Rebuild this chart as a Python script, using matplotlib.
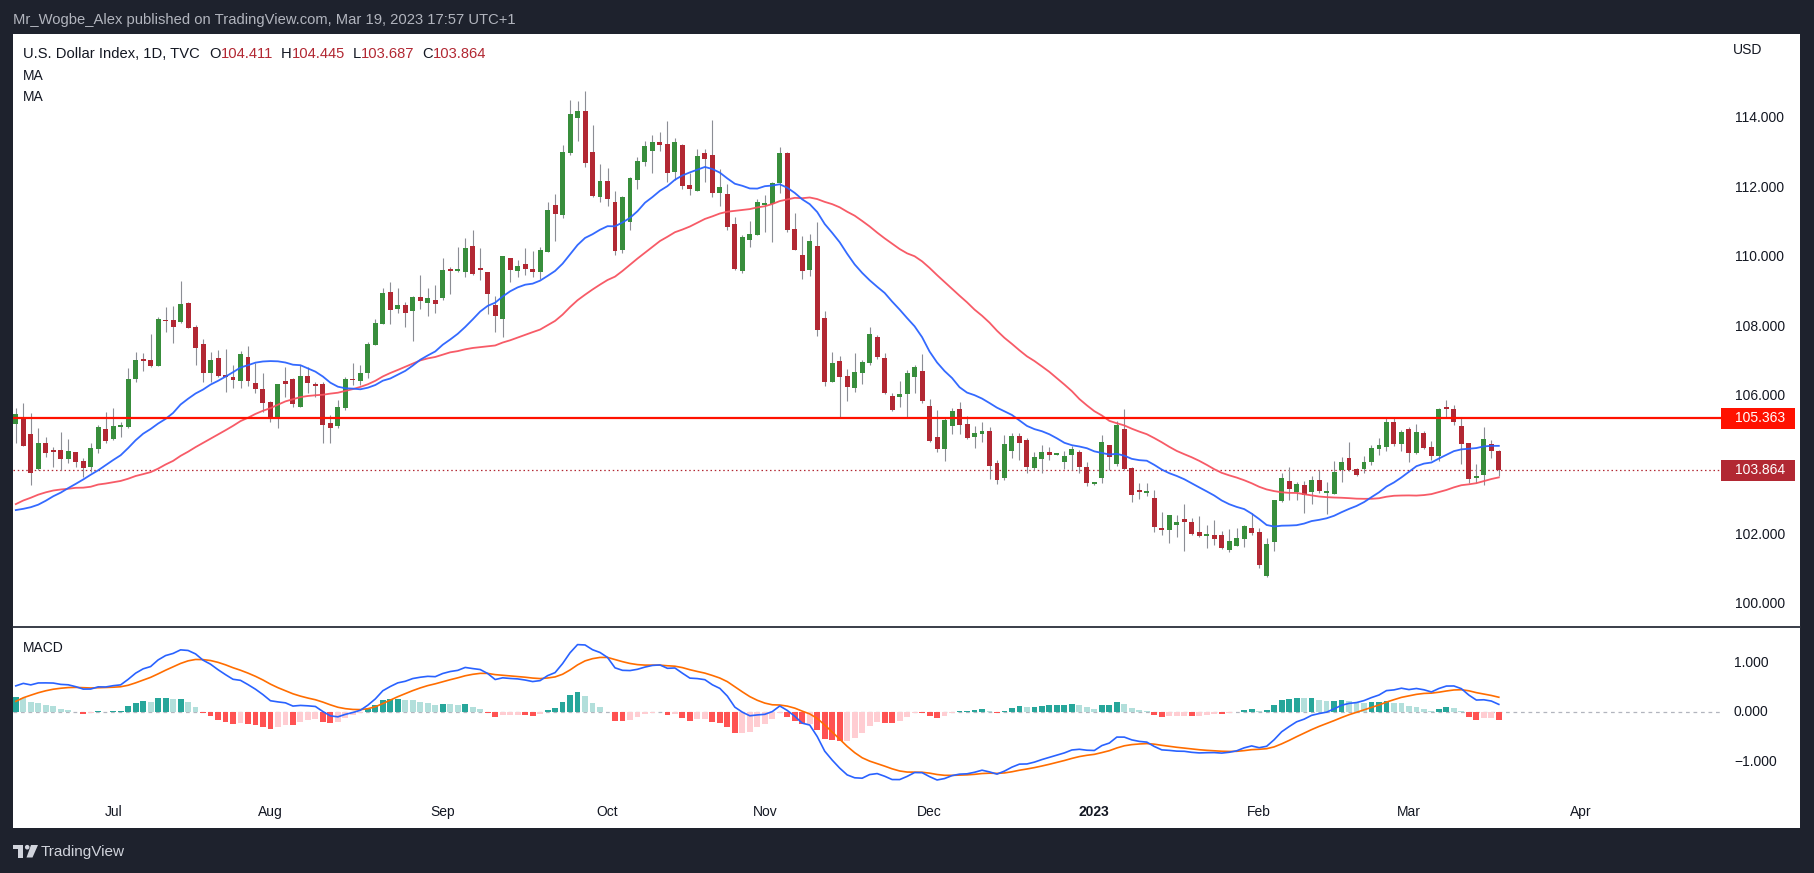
import numpy as np
import pandas as pd
import matplotlib
matplotlib.use("Agg")
import matplotlib.pyplot as plt
from matplotlib.patches import Rectangle, Circle, Polygon

plt.rcParams['font.family'] = ['Liberation Sans', 'DejaVu Sans']

# ---------------- data ----------------
# daily closes before the visible window (used only to warm up the indicators)
history_close = [
    96.2, 96.3, 96.2, 96.3, 95.7, 95.9, 95.6, 94.9, 95.2, 95.2, 95.3, 95.8, 95.5, 95.7, 95.6,
    95.9, 96.0, 96.5, 97.2, 97.3, 96.6,
    96.3, 95.9, 95.4, 95.5, 95.5, 95.6, 95.5, 95.6, 96.0, 96.3, 96.0, 95.8, 95.8, 96.0, 96.0,
    96.0, 96.2, 97.1, 96.6, 96.7,
    97.4, 97.4, 97.8, 98.6, 99.0, 98.9, 98.0, 98.5, 99.1, 99.0, 98.8, 98.4, 97.9, 98.2, 98.5,
    98.5, 98.6, 98.8, 98.8, 99.0, 98.4, 97.8, 98.3,
    98.6, 99.0, 99.5, 99.6, 99.8, 99.8, 99.9, 100.3, 99.8, 100.5, 100.5, 100.9, 101.0, 100.4,
    100.6, 101.1, 101.7, 102.3, 103.0, 103.6, 103.0,
    103.76, 103.45, 102.56, 103.56, 103.66, 103.67, 103.92, 103.91, 104.85, 104.56, 104.20,
    103.38, 103.85, 102.85, 103.19, 102.11, 101.82, 102.08, 101.82, 101.67, 101.41, 101.76,
    102.54, 101.80, 102.16, 102.40, 102.33, 102.55, 103.26, 104.15, 105.08,
]

first_day = '2022-06-14'
last_day = '2023-03-17'

open_ = np.array([
    105.19, 105.38, 104.91, 103.89, 104.65, 104.46, 104.45, 104.20, 104.38, 104.13,
    103.97, 104.47, 105.05, 104.77, 105.11, 105.12, 106.48, 107.07, 107.04, 106.88,
    108.19, 108.20, 108.14, 108.68, 107.99, 107.50, 106.67, 107.09, 106.62, 106.55,
    106.44, 107.13, 106.37, 106.21, 105.83, 105.36, 106.44, 106.49, 105.70, 106.58,
    106.35, 106.35, 105.23, 105.15, 105.67, 106.49, 106.44, 106.67, 107.47, 108.09,
    109.00, 108.51, 108.63, 108.46, 108.85, 108.69, 108.77, 108.83, 109.66, 109.61,
    109.59, 110.33, 109.68, 109.57, 108.63, 108.23, 109.97, 109.61, 109.81, 109.66,
    109.59, 110.16, 111.50, 111.22, 113.01, 114.02, 114.22, 113.04, 111.75, 112.20,
    111.59, 110.21, 111.03, 112.24, 112.76, 113.07, 113.32, 113.27, 112.47, 113.24,
    112.08, 111.92, 113.00, 112.95, 111.86, 111.82, 110.96, 109.61, 110.51, 110.65,
    111.51, 111.55, 112.15, 113.01, 110.82, 110.07, 109.64, 110.33, 108.25, 106.42,
    107.01, 106.58, 106.24, 106.67, 106.96, 107.70, 107.10, 106.00, 105.97, 106.05,
    106.56, 106.72, 105.72, 104.82, 104.48, 105.15, 105.63, 105.20, 104.83, 104.92,
    104.99, 104.07, 103.65, 104.43, 104.85, 104.74, 103.94, 104.20, 104.39, 104.31,
    104.11, 104.31, 104.39, 103.97, 103.48, 103.65, 104.59, 104.05, 105.05, 103.93,
    103.29, 103.22, 103.06, 102.20, 102.14, 102.29, 102.46, 102.37, 102.08, 101.98,
    102.00, 102.00, 101.57, 101.69, 101.89, 102.20, 102.08, 100.82, 101.80, 102.99,
    103.55, 103.24, 103.44, 103.24, 103.58, 103.22, 103.18, 103.87, 104.22, 103.90,
    103.90, 104.10, 104.48, 104.54, 105.25, 104.62, 105.05, 104.36, 104.94, 104.53,
    104.27, 105.69, 105.63, 105.14, 104.65, 103.65, 103.73, 104.62, 104.411,
])
high_ = np.array([
    105.65, 105.81, 105.52, 105.07, 104.81, 104.54, 104.97, 104.76, 104.40, 104.21,
    104.64, 105.17, 105.54, 105.65, 105.26, 106.80, 107.28, 107.25, 107.79, 108.27,
    108.58, 108.60, 109.32, 108.72, 108.05, 107.64, 107.28, 107.33, 107.37, 106.90,
    107.30, 107.44, 106.95, 106.66, 105.85, 106.36, 106.85, 106.51, 106.90, 106.83,
    106.42, 106.40, 105.46, 105.89, 106.56, 106.95, 106.90, 107.57, 108.22, 109.12,
    109.30, 109.11, 108.72, 108.89, 109.49, 109.11, 109.20, 109.97, 109.71, 110.31,
    110.56, 110.78, 110.28, 109.59, 108.89, 110.05, 109.99, 109.91, 110.26, 110.18,
    110.31, 111.59, 111.82, 113.24, 114.53, 114.50, 114.79, 113.81, 112.69, 112.57,
    111.92, 111.76, 112.31, 112.88, 113.35, 113.52, 113.61, 113.93, 113.43, 113.26,
    112.42, 113.12, 113.12, 113.96, 112.55, 112.12, 111.17, 110.64, 111.05, 111.68,
    111.80, 112.17, 113.19, 113.03, 111.28, 110.61, 110.67, 111.02, 108.45, 107.27,
    107.15, 106.79, 107.24, 107.04, 107.99, 107.75, 107.23, 106.08, 106.44, 106.75,
    106.90, 107.21, 105.92, 105.60, 105.39, 105.65, 105.84, 105.43, 105.14, 105.26,
    105.12, 104.16, 104.88, 104.93, 104.93, 104.80, 104.38, 104.59, 104.53, 104.35,
    104.42, 104.57, 104.45, 104.11, 103.52, 104.88, 104.60, 105.29, 105.63, 103.95,
    103.50, 103.50, 103.29, 102.66, 102.58, 102.57, 102.89, 102.49, 102.55, 102.29,
    102.43, 102.11, 102.17, 102.20, 102.29, 102.62, 102.20, 101.92, 103.02, 103.78,
    103.96, 103.53, 103.55, 103.70, 103.87, 103.52, 104.13, 104.25, 104.68, 103.92,
    104.27, 104.59, 104.79, 105.36, 105.38, 105.02, 105.11, 105.20, 104.99, 104.71,
    105.66, 105.89, 105.74, 105.37, 104.65, 104.04, 105.11, 104.74, 104.445,
])
low_ = np.array([
    104.64, 104.55, 103.44, 103.87, 104.25, 103.97, 103.87, 104.08, 103.97, 103.66,
    103.82, 104.37, 104.66, 104.74, 104.83, 105.07, 106.42, 106.73, 106.83, 106.86,
    107.86, 107.52, 108.12, 107.95, 106.90, 106.42, 106.42, 106.56, 106.13, 106.23,
    106.23, 106.29, 106.08, 105.55, 105.26, 105.07, 105.98, 105.70, 105.68, 106.10,
    105.98, 104.66, 104.66, 105.09, 105.60, 106.32, 106.32, 106.53, 107.46, 108.07,
    108.08, 108.39, 108.00, 107.60, 108.50, 108.31, 108.40, 108.78, 108.94, 109.59,
    109.42, 109.50, 109.35, 108.37, 107.84, 107.71, 109.30, 109.44, 109.49, 109.44,
    109.37, 110.14, 110.48, 111.12, 112.95, 113.35, 112.59, 111.75, 111.60, 111.49,
    110.07, 110.12, 110.79, 111.98, 112.63, 112.44, 113.07, 112.18, 112.23, 111.96,
    111.80, 111.90, 112.18, 111.73, 111.49, 110.80, 109.63, 109.56, 110.31, 110.63,
    110.74, 110.45, 111.84, 110.74, 110.20, 109.38, 109.46, 107.74, 106.30, 106.40,
    105.36, 105.87, 106.12, 106.36, 106.90, 107.08, 106.05, 105.58, 105.70, 105.36,
    106.08, 105.79, 104.69, 104.40, 104.14, 104.91, 104.90, 104.76, 104.50, 104.69,
    103.60, 103.48, 103.57, 104.23, 104.15, 103.79, 103.87, 103.78, 104.16, 104.29,
    103.90, 103.87, 103.79, 103.42, 103.45, 103.49, 103.87, 103.99, 103.88, 102.96,
    103.04, 103.12, 102.08, 102.00, 101.77, 101.94, 101.54, 102.00, 101.94, 101.61,
    101.71, 101.59, 101.52, 101.67, 101.66, 102.00, 101.06, 100.79, 101.55, 102.96,
    103.01, 103.01, 102.64, 102.89, 103.20, 102.61, 103.18, 103.52, 103.85, 103.70,
    103.78, 104.01, 104.30, 104.42, 104.56, 104.42, 104.10, 104.33, 104.48, 104.16,
    104.13, 105.37, 105.18, 104.04, 103.50, 103.50, 103.44, 104.22, 103.687,
])
close_ = np.array([
    105.48, 104.57, 103.79, 104.65, 104.37, 104.40, 104.18, 104.42, 104.11, 103.94,
    104.50, 105.11, 104.72, 105.14, 105.17, 106.48, 107.04, 107.02, 106.87, 108.22,
    108.16, 108.00, 108.65, 107.97, 107.40, 106.67, 107.04, 106.59, 106.55, 106.47,
    107.21, 106.44, 106.20, 105.81, 105.39, 106.34, 106.36, 105.76, 106.58, 106.37,
    106.30, 105.18, 105.09, 105.68, 106.49, 106.46, 106.66, 107.50, 108.10, 108.96,
    108.48, 108.63, 108.40, 108.86, 108.75, 108.82, 108.66, 109.63, 109.61, 109.63,
    110.26, 109.53, 109.63, 108.95, 108.32, 110.04, 109.64, 109.75, 109.65, 109.58,
    110.21, 111.36, 111.26, 113.04, 114.13, 114.22, 112.71, 111.78, 112.20, 111.67,
    110.19, 111.74, 112.29, 112.78, 113.21, 113.32, 113.25, 112.44, 113.32, 112.06,
    111.97, 112.92, 112.83, 111.86, 112.03, 110.88, 109.66, 110.59, 110.67, 111.59,
    111.57, 112.13, 113.01, 110.79, 110.22, 109.61, 110.47, 107.91, 106.42, 106.95,
    106.56, 106.27, 106.70, 106.98, 107.79, 107.14, 106.10, 105.61, 106.06, 106.67,
    106.84, 105.87, 104.72, 104.48, 105.31, 105.57, 105.18, 104.80, 104.94, 104.99,
    103.99, 103.59, 104.62, 104.85, 104.66, 103.97, 104.25, 104.39, 104.31, 104.33,
    104.27, 104.48, 103.97, 103.49, 103.50, 104.68, 104.25, 105.17, 103.91, 103.15,
    103.24, 103.27, 102.23, 102.14, 102.57, 102.37, 102.37, 102.03, 101.97, 102.03,
    101.89, 101.63, 101.82, 101.91, 102.26, 102.06, 101.13, 101.74, 103.01, 103.64,
    103.33, 103.47, 103.16, 103.58, 103.27, 103.27, 103.81, 104.10, 103.87, 103.73,
    104.10, 104.50, 104.59, 105.25, 104.62, 104.97, 104.36, 104.97, 104.50, 104.27,
    105.63, 105.63, 105.25, 104.62, 103.61, 103.68, 104.76, 104.42, 103.864,
])

level_line = 105.363
price_ticks = [100, 102, 106, 108, 110, 112, 114]
macd_ticks = [1.0, 0.0, -1.0]
time_labels = ['Jul', 'Aug', 'Sep', 'Oct', 'Nov', 'Dec', '2023', 'Feb', 'Mar', 'Apr']
time_label_dates = ['2022-07-01', '2022-08-01', '2022-09-01', '2022-10-03', '2022-11-01',
                    '2022-12-01', '2023-01-02', '2023-02-01', '2023-03-01', '2023-04-03']

# ---------------- indicators ----------------
n = len(close_)
allc = pd.Series(np.r_[np.array(history_close), close_])
sma20 = allc.rolling(20).mean().values[-n:]
sma40 = allc.rolling(40).mean().values[-n:]
ema12 = allc.ewm(span=12, adjust=False).mean()
ema26 = allc.ewm(span=26, adjust=False).mean()
macd_full = ema12 - ema26
sig_full = macd_full.ewm(span=9, adjust=False).mean()
hist_full = (macd_full - sig_full).values
macd = macd_full.values[-n:]
signal = sig_full.values[-n:]
hist = hist_full[-n:]
hist_prev = hist_full[-n - 1:-1]
hist_colors = []
for h, hp in zip(hist, hist_prev):
    if h >= 0:
        hist_colors.append('#26A69A' if h > hp else '#B2DFDB')
    else:
        hist_colors.append('#FFCDD2' if h > hp else '#FF5252')

# ---------------- figure ----------------
W, H = 1814, 873
fig = plt.figure(figsize=(W / 100, H / 100), dpi=100, facecolor='#1E222D')

canvas = fig.add_axes([0, 0, 1, 1], zorder=0)
canvas.set_xlim(0, W)
canvas.set_ylim(H, 0)
canvas.axis('off')
canvas.add_patch(Rectangle((13, 34), 1800 - 13, 828 - 34, facecolor='white', edgecolor='none'))
canvas.plot([13, 1800], [627, 627], color='#2A2E39', lw=1.3)

L, R = 13, 1721
x0_px, step_px = 15.8, 7.49
xlim = ((L - x0_px) / step_px, (R - x0_px) / step_px)

ax = fig.add_axes([L / W, 1 - 627 / H, (R - L) / W, (627 - 34) / H], zorder=2)
ax.set_facecolor('none')
mx = fig.add_axes([L / W, 1 - 797 / H, (R - L) / W, (797 - 627) / H], zorder=2)
mx.set_facecolor('none')
for a in (ax, mx):
    a.set_xticks([])
    a.set_yticks([])
    for sp in a.spines.values():
        sp.set_visible(False)
    a.set_xlim(*xlim)
ax.set_ylim(99.346, 116.435)
mx.set_ylim(-1.70, 1.716)

x = np.arange(n)
up = close_ >= open_
body_col = np.where(up, '#388E3C', '#B22833')
ax.vlines(x, low_, high_, color='#8C8E95', lw=0.8, zorder=2)
bottoms = np.minimum(open_, close_)
heights = np.maximum(np.abs(close_ - open_), 0.045)
ax.bar(x, heights, bottom=bottoms, width=0.66, color=body_col, linewidth=0, zorder=3)

ax.axhline(close_[-1], color='#B22833', lw=0.9, ls=(0, (1.2, 2.2)), zorder=1)
ax.plot(x, sma40, color='#F7525F', lw=1.3, zorder=4, alpha=0.95)
ax.plot(x, sma20, color='#2962FF', lw=1.3, zorder=4, alpha=0.95)
ax.axhline(level_line, color='#FF1100', lw=1.6, zorder=5)

# MACD pane
mx.axhline(0, color='#B2B5BE', lw=0.9, ls=(0, (3, 3)), zorder=1)
mx.bar(x, hist, width=0.78, color=hist_colors, linewidth=0, zorder=2)
mx.plot(x, signal, color='#FF6D00', lw=1.2, zorder=3)
mx.plot(x, macd, color='#2962FF', lw=1.2, zorder=4)

fig.canvas.draw()
renderer = fig.canvas.get_renderer()


def img_y(a, v):
    return H - a.transData.transform((0, v))[1]


def img_x(a, v):
    return a.transData.transform((v, 0))[0]


txt_dark = '#131722'
# price scale
for p in price_ticks:
    canvas.text(1735, img_y(ax, p), f'{p:.3f}', color=txt_dark, fontsize=10, va='center', ha='left')
canvas.text(1733, 50, 'USD', color=txt_dark, fontsize=10, va='center', ha='left')
for p, bg in [(level_line, '#FF1100'), (close_[-1], '#B22833')]:
    yc = img_y(ax, p)
    canvas.add_patch(Rectangle((1721, yc - 10.5), 74, 21, facecolor=bg, edgecolor='none'))
    canvas.text(1735, yc, f'{p:.3f}', color='white', fontsize=10, va='center', ha='left')

# MACD scale
for v in macd_ticks:
    lab = f'{v:.3f}'.replace('-', '\u2212')
    canvas.text(1734, img_y(mx, v), lab, color=txt_dark, fontsize=10, va='center', ha='left')

# time axis
for lab, d in zip(time_labels, time_label_dates):
    idx = len(pd.bdate_range(first_day, d)) - 1
    canvas.text(img_x(ax, idx), 812, lab, color=txt_dark, fontsize=10, va='center', ha='center',
                fontweight='bold' if lab == '2023' else 'normal')

# header texts
canvas.text(13, 20, 'Mr_Wogbe_Alex published on TradingView.com, Mar 19, 2023 17:57 UTC+1',
            color='#B2B5BE', fontsize=10.6, va='center', ha='left')


def seq_text(xs, y, parts, fs):
    xcur = xs
    for s, c in parts:
        t = canvas.text(xcur, y, s, color=c, fontsize=fs, va='center', ha='left')
        xcur += t.get_window_extent(renderer).width


red_v = '#B22833'
hdr_fs = 10.6
canvas.text(23, 54, 'U.S. Dollar Index, 1D, TVC', color=txt_dark, fontsize=hdr_fs, va='center', ha='left')
for start, letter, val in [(209, 'O', open_[-1]), (281, 'H', high_[-1]),
                           (353, 'L', low_[-1]), (422, 'C', close_[-1])]:
    seq_text(start, 54, [(letter, txt_dark), (f'{val:.3f}', red_v)], hdr_fs)
canvas.text(23, 76, 'MA', color=txt_dark, fontsize=10, va='center', ha='left')
canvas.text(23, 97, 'MA', color=txt_dark, fontsize=10, va='center', ha='left')
canvas.text(23, 648, 'MACD', color=txt_dark, fontsize=10, va='center', ha='left')

# TradingView logo
logo_c = '#D1D4DC'
canvas.add_patch(Rectangle((13, 845), 10, 4, facecolor=logo_c, edgecolor='none'))
canvas.add_patch(Rectangle((17.5, 845), 5.5, 12.5, facecolor=logo_c, edgecolor='none'))
canvas.add_patch(Circle((27.2, 847.2), 2.3, facecolor=logo_c, edgecolor='none'))
canvas.add_patch(Polygon([(31, 845), (38, 845), (32.5, 857.5), (26.5, 857.5)], closed=True,
                         facecolor=logo_c, edgecolor='none'))
canvas.text(41, 852, 'TradingView', color=logo_c, fontsize=11, va='center', ha='left')

fig.savefig('out.png', dpi=100, facecolor=fig.get_facecolor())
